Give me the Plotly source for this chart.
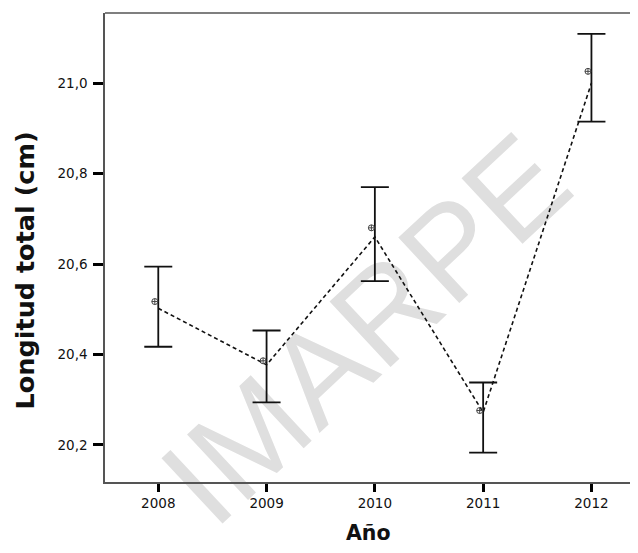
import plotly.graph_objects as go

years = [2008, 2009, 2010, 2011, 2012]
means = [20.517, 20.386, 20.680, 20.276, 21.026]
line_vals = [20.502, 20.377, 20.660, 20.272, 21.000]
upper = [20.594, 20.453, 20.770, 20.338, 21.109]
lower = [20.417, 20.294, 20.562, 20.183, 20.915]
ytick_vals = [20.2, 20.4, 20.6, 20.8, 21.0]

err_plus = [u - m for u, m in zip(upper, means)]
err_minus = [m - l for m, l in zip(means, lower)]

fig = go.Figure()

fig.add_trace(go.Scatter(
    x=years, y=line_vals, mode="lines",
    line=dict(color="#111111", width=1.6, dash="4px,3px"),
    hoverinfo="skip", showlegend=False))

fig.add_trace(go.Scatter(
    x=years, y=means, mode="markers",
    marker=dict(size=1, color="rgba(0,0,0,0)"),
    error_y=dict(type="data", symmetric=False, array=err_plus, arrayminus=err_minus,
                 color="#111111", thickness=1.8, width=14),
    showlegend=False))

fig.add_trace(go.Scatter(
    x=[y - 0.032 for y in years], y=means, mode="markers",
    marker=dict(symbol="circle-cross-open", size=6, color="#444444", line=dict(width=1)),
    showlegend=False))

# watermark behind the data
fig.add_shape(
    type="rect", xref="paper", yref="paper", x0=0.373, x1=0.573, y0=0.245, y1=0.445,
    layer="below", line=dict(width=0), fillcolor="rgba(0,0,0,0)",
    label=dict(text="IMARPE", textangle=-43, textposition="middle center",
               font=dict(family="Liberation Sans, Arial", size=130, color="#dfdfdf")))

# top border of the frame (no right border)
fig.add_shape(type="line", xref="paper", yref="paper", x0=0, x1=1, y0=1, y1=1,
              line=dict(color="#555555", width=1.5))

# axis titles as annotations (positioned like the reference)
fig.add_annotation(
    text="<b>Longitud total (cm)</b>", xref="paper", yref="paper",
    x=-0.151, y=0.45, xanchor="center", yanchor="middle", textangle=-90,
    showarrow=False, font=dict(family="DejaVu Sans", size=25.5, color="#111111"))
fig.add_annotation(
    text="<b>Año</b>", xref="paper", yref="paper",
    x=0.495, y=-0.108, xanchor="center", yanchor="middle",
    showarrow=False, font=dict(family="DejaVu Sans", size=20.5, color="#111111"))

fig.update_layout(
    width=630, height=537,
    margin=dict(l=97, r=0, t=5, b=63),
    paper_bgcolor="white", plot_bgcolor="white",
    separators=",.",
    font=dict(family="DejaVu Sans", color="#111111"),
    xaxis=dict(
        range=[2007.508, 2012.43], tickvals=years, ticktext=[str(y) for y in years],
        ticks="outside", ticklen=8, tickwidth=3, tickcolor="black",
        showgrid=False, zeroline=False,
        showline=True, linecolor="#555555", linewidth=1.5, mirror=False,
        tickfont=dict(family="DejaVu Sans", size=13.5, color="#111111")),
    yaxis=dict(
        range=[20.118, 21.155], tickvals=ytick_vals, tickformat=".1f",
        ticks="outside", ticklen=10, tickwidth=3, tickcolor="black",
        showgrid=False, zeroline=False,
        showline=True, linecolor="#555555", linewidth=1.5, mirror=False,
        tickfont=dict(family="DejaVu Sans", size=13.5, color="#111111"),
        ticklabelstandoff=3),
)

fig.write_html("out.html")
